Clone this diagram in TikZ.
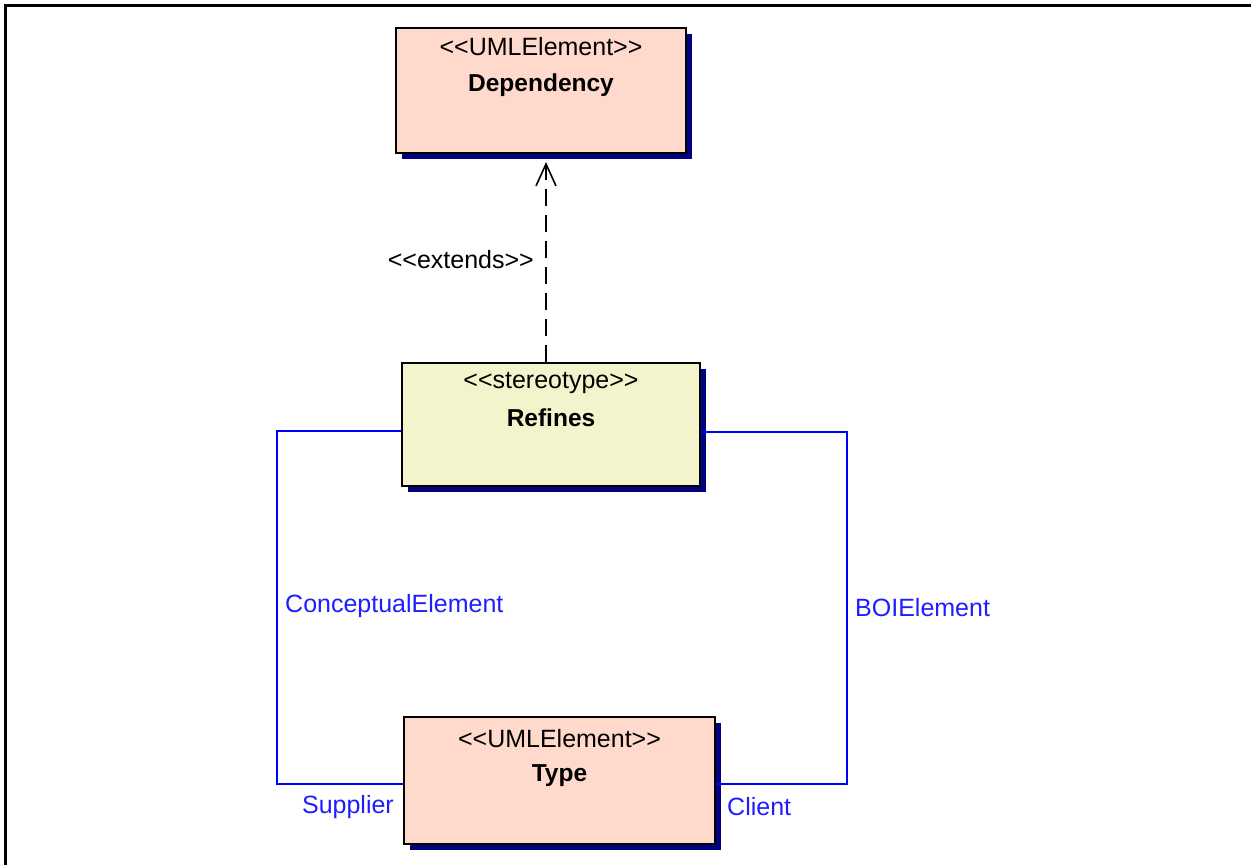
\documentclass[tikz,border=0pt]{standalone}
\usepackage{fontspec}
\setmainfont{Liberation Sans}
\usetikzlibrary{arrows.meta,shadows,positioning}

\definecolor{umlsalmon}{RGB}{255,217,204}
\definecolor{umlyellow}{RGB}{244,244,204}
\definecolor{umlshadow}{RGB}{0,0,128}
\definecolor{umlblue}{RGB}{0,0,255}
\definecolor{umltext}{RGB}{30,30,255}

\tikzset{
  classbox/.style={draw=black, line width=2pt, rectangle, inner sep=0pt,
    drop shadow={shadow xshift=6pt, shadow yshift=-6pt, fill=umlshadow, opacity=1}},
  stereo/.style={inner sep=0pt, font=\fontsize{25}{28}\selectfont},
  cname/.style={inner sep=0pt, font=\fontsize{24.5}{28}\selectfont\bfseries},
  assoc/.style={draw=umlblue, line width=1.6pt},
  rolelabel/.style={inner sep=0pt, text=umltext, font=\fontsize{25}{28}\selectfont},
  deplabel/.style={inner sep=0pt, font=\fontsize{25}{28}\selectfont},
  extendsline/.style={line width=1.6pt, dash pattern=on 17pt off 9pt,
    -{Straight Barb[length=22pt,width=20pt,line width=1.6pt]}}
}

\begin{document}
\begin{tikzpicture}[x=1pt,y=-1pt]
  \useasboundingbox (0,0) rectangle (1251,865);
  \fill[white] (0,0) rectangle (1251,865);

  % outer frame
  \draw[line width=3pt] (5,865) -- (5,5) -- (1251,5);

  % classes
  \node[classbox, fill=umlsalmon, anchor=north west, minimum width=290pt, minimum height=125pt] (dep) at (395,27) {};
  \node[stereo] (depst) at ([yshift=-20pt]dep.north) {<{}<UMLElement>{}>};
  \node[cname] (depnm) at ([yshift=-58pt]dep.north) {Dependency};

  \node[classbox, fill=umlyellow, anchor=north west, minimum width=298pt, minimum height=123pt] (ref) at (401,362) {};
  \node[stereo] (refst) at ([yshift=-21pt]ref.north) {<{}<stereotype>{}>};
  \node[cname] (refnm) at ([yshift=-56pt]ref.north) {Refines};

  \node[classbox, fill=umlsalmon, anchor=north west, minimum width=311pt, minimum height=127pt] (typ) at (403,716) {};
  \node[stereo] (typst) at ([yshift=-23pt]typ.north) {<{}<UMLElement>{}>};
  \node[cname] (typnm) at ([yshift=-60pt]typ.north) {Type};

  % extends dependency
  \draw[extendsline] ([xshift=-5pt]ref.north) -- ([xshift=5pt,yshift=-8pt]dep.south);
  \node[deplabel, anchor=east] (extlbl) at (534,260) {<{}<extends>{}>};

  % associations
  \coordinate (lt) at (277,431);
  \coordinate (lb) at (277,784);
  \coordinate (rt) at (847,432);
  \coordinate (rb) at (847,784);
  \draw[assoc] (ref.west |- lt) -- (lt) -- (lb) -- (typ.west |- lb);
  \draw[assoc] (ref.east |- rt) -- (rt) -- (rb) -- (typ.east |- rb);

  % role and end labels
  \node[rolelabel, anchor=west] (cel) at (285,606) {ConceptualElement};
  \node[rolelabel, anchor=west] (bel) at (855,608) {BOIElement};
  \node[rolelabel, anchor=east] (sup) at (394,807) {Supplier};
  \node[rolelabel, anchor=west] (cli) at (727,807) {Client};
\end{tikzpicture}
\end{document}
